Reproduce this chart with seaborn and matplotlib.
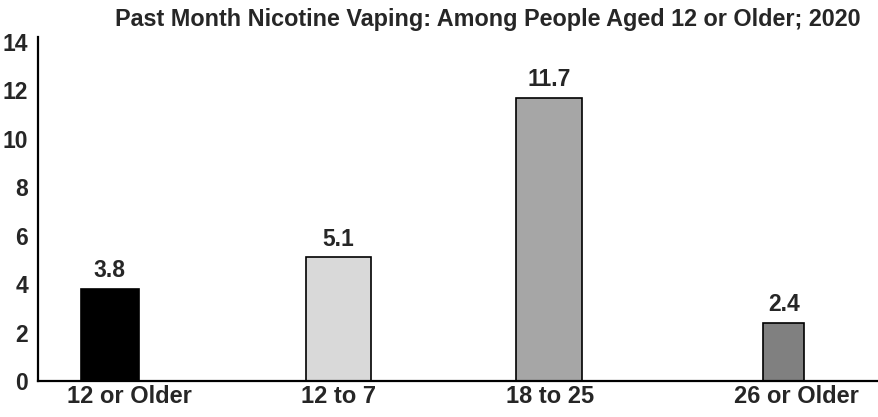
import matplotlib
matplotlib.use("Agg")
import matplotlib.pyplot as plt
import seaborn as sns
import pandas as pd

# Age groups and past-month nicotine vaping percentages, 2020
age_groups = ["12 or Older", "12 to 7", "18 to 25", "26 or Older"]
percentages = [3.8, 5.1, 11.7, 2.4]
y_ticks = [0, 2, 4, 6, 8, 10, 12, 14]

bar_colors = ["#000000", "#d9d9d9", "#a6a6a6", "#808080"]
bar_widths = [0.26, 0.29, 0.29, 0.18]
bar_shifts = [0.0, 0.018, -0.045, 0.0]
label_shifts = [0.086, 0.019, -0.039, 0.055]

sns.set_theme(style="white")
plt.rcParams["font.family"] = ["Liberation Sans", "DejaVu Sans"]
plt.rcParams["font.weight"] = "bold"

df = pd.DataFrame({"group": age_groups, "pct": percentages})

fig = plt.figure(figsize=(8.79, 4.17), dpi=100)
ax = fig.add_axes([38 / 879, 1 - 381 / 417, 840 / 879, 344 / 417])

sns.barplot(data=df, x="group", y="pct", hue="group", palette=bar_colors,
            legend=False, ax=ax, width=0.28, edgecolor="black", linewidth=1.2,
            saturation=1)

# individual bar widths and small horizontal nudges per category
for patch, w, dx in zip(ax.patches, bar_widths, bar_shifts):
    cx = patch.get_x() + patch.get_width() / 2 + dx
    patch.set_width(w)
    patch.set_x(cx - w / 2)

for container in ax.containers:
    ax.bar_label(container, fmt="%.1f", padding=5, fontsize=16.5, fontweight="bold")

ax.set_xlim(-0.32, 3.42)
ax.set_ylim(0, 14.2)
ax.set_xticks([i + s for i, s in enumerate(label_shifts)])
ax.set_xticklabels(age_groups, fontsize=17, fontweight="bold")
ax.set_yticks(y_ticks)
ax.set_yticklabels([str(t) for t in y_ticks], fontsize=16.5, fontweight="bold")
ax.tick_params(axis="x", pad=3, length=0)
ax.tick_params(axis="y", pad=7, length=0)
ax.set_xlabel("")
ax.set_ylabel("")

for side in ["top", "right"]:
    ax.spines[side].set_visible(False)
for side in ["left", "bottom"]:
    ax.spines[side].set_color("black")
    ax.spines[side].set_linewidth(1.6)

fig.text(0.555, 0.953, "Past Month Nicotine Vaping: Among People Aged 12 or Older; 2020",
         ha="center", va="center", fontsize=16.8, fontweight="bold")

fig.savefig("out.png", dpi=100)
